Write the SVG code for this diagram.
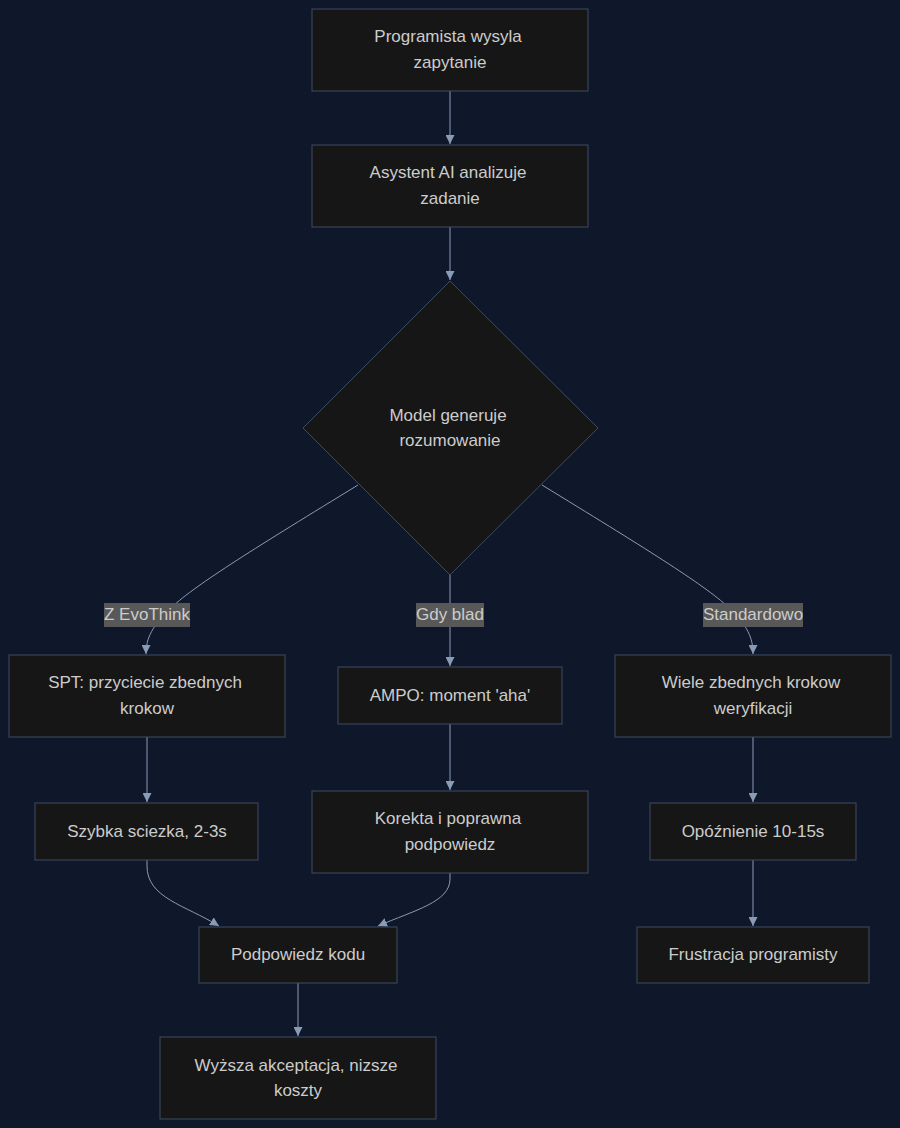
<svg xmlns="http://www.w3.org/2000/svg" width="900" height="1128" viewBox="0 0 900 1128">
<defs>
<marker id="arr" viewBox="0 0 10 10" refX="10" refY="5" markerWidth="9" markerHeight="9" markerUnits="userSpaceOnUse" orient="auto">
<path d="M0,0 L10,5 L0,10 z" fill="#8a9bb6"/>
</marker>
<style>
.n{fill:#161616;stroke:#3e4c60;stroke-width:1}
.t{font-family:"Liberation Sans",Arial,sans-serif;font-size:17px;fill:#cccccc;text-anchor:middle}
.e{fill:none;stroke:#8a9bb6;stroke-width:1;marker-end:url(#arr)}
.lb{fill:#585858}
</style>
</defs>
<rect width="900" height="1128" fill="#0f172a"/>
<g id="edges">
<path class="e" d="M450,91 L450,144"/>
<path class="e" d="M450,227 L450,280"/>
<path class="e" d="M358,485 C260,545 195,585 172,607 C152,626 146,638 146,654"/>
<path class="e" d="M450,575 L450,666"/>
<path class="e" d="M542,485 C640,545 705,585 728,607 C748,626 753,638 753,654"/>
<path class="e" d="M147,737 L147,802"/>
<path class="e" d="M450,724 L450,790"/>
<path class="e" d="M753,737 L753,802"/>
<path class="e" d="M147,860 L147,866 C147,898 185,905 219,926"/>
<path class="e" d="M450,873 L450,879 C450,902 415,910 378,926"/>
<path class="e" d="M753,860 L753,926"/>
<path class="e" d="M298,983 L298,1036"/>
</g>
<g id="label-evothink"><rect class="lb" x="104" y="603" width="86" height="24"/><text class="t" x="147" y="620">Z EvoThink</text></g>
<g id="label-blad"><rect class="lb" x="416" y="603" width="68" height="24"/><text class="t" x="450" y="620">Gdy blad</text></g>
<g id="label-standard"><rect class="lb" x="703" y="603" width="100" height="24"/><text class="t" x="753" y="620">Standardowo</text></g>
<g id="n1"><rect class="n" x="312" y="9" width="276" height="82"/><text class="t" x="448" y="42">Programista wysyla</text><text class="t" x="450" y="68">zapytanie</text></g>
<g id="n2"><rect class="n" x="312" y="145" width="276" height="82"/><text class="t" x="448" y="178">Asystent AI analizuje</text><text class="t" x="450" y="204">zadanie</text></g>
<g id="n3"><polygon class="n" points="450,281 598,428 450,575 303,428"/><text class="t" x="448" y="421">Model generuje</text><text class="t" x="450" y="446">rozumowanie</text></g>
<g id="n4"><rect class="n" x="9" y="655" width="276" height="82"/><text class="t" x="145" y="688">SPT: przyciecie zbednych</text><text class="t" x="147" y="714">krokow</text></g>
<g id="n5"><rect class="n" x="338" y="667" width="224" height="57"/><text class="t" x="450" y="701">AMPO: moment 'aha'</text></g>
<g id="n6"><rect class="n" x="615" y="655" width="276" height="82"/><text class="t" x="751" y="688">Wiele zbednych krokow</text><text class="t" x="753" y="714">weryfikacji</text></g>
<g id="n7"><rect class="n" x="35" y="803" width="223" height="57"/><text class="t" x="147" y="837">Szybka sciezka, 2-3s</text></g>
<g id="n8"><rect class="n" x="312" y="791" width="276" height="82"/><text class="t" x="448" y="824">Korekta i poprawna</text><text class="t" x="450" y="850">podpowiedz</text></g>
<g id="n9"><rect class="n" x="650" y="803" width="206" height="57"/><text class="t" x="753" y="837">Opóźnienie 10-15s</text></g>
<g id="n10"><rect class="n" x="199" y="927" width="198" height="56"/><text class="t" x="298" y="960">Podpowiedz kodu</text></g>
<g id="n11"><rect class="n" x="637" y="927" width="232" height="56"/><text class="t" x="753" y="960">Frustracja programisty</text></g>
<g id="n12"><rect class="n" x="160" y="1037" width="276" height="82"/><text class="t" x="296" y="1071">Wyższa akceptacja, nizsze</text><text class="t" x="298" y="1096">koszty</text></g>
</svg>
